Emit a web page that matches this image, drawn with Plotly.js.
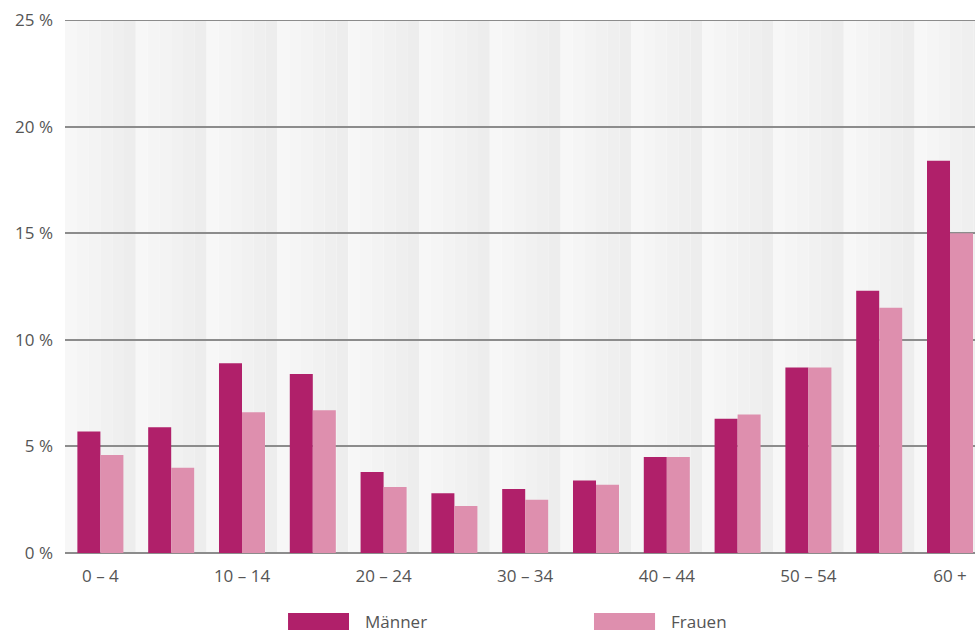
<!DOCTYPE html>
<html>
<head>
<meta charset="utf-8">
<script src="https://cdn.plot.ly/plotly-3.0.1.min.js"></script>
<style>html,body{margin:0;padding:0;background:#fff}#chart{width:975px;height:632px}</style>
</head>
<body>
<div id="chart"></div>
<script>
const categories = ["0 – 4","5 – 9","10 – 14","15 – 19","20 – 24","25 – 29","30 – 34","35 – 39","40 – 44","45 – 49","50 – 54","55 – 59","60 +"];
const maenner = [5.7, 5.9, 8.9, 8.4, 3.8, 2.8, 3.0, 3.4, 4.5, 6.3, 8.7, 12.3, 18.4];
const frauen  = [4.6, 4.0, 6.6, 6.7, 3.1, 2.2, 2.5, 3.2, 4.5, 6.5, 8.7, 11.5, 15.0];
const shownTicks = ["0 – 4","10 – 14","20 – 24","30 – 34","40 – 44","50 – 54","60 +"];
const yTickVals = [0, 5, 10, 15, 20, 25];
const yTickText = ["0 %","5 %","10 %","15 %","20 %","25 %"];
const seriesNames = ["Männer", "Frauen"];
const colors = ["#B0206A", "#DE8FAE"];

const FONT = "Open Sans, sans-serif";
const FS = 17;
const idx = categories.map((c, i) => i);

const traces = [
  {type: "bar", name: seriesNames[0], x: idx, y: maenner, marker: {color: colors[0]}, hoverinfo: "y"},
  {type: "bar", name: seriesNames[1], x: idx, y: frauen, marker: {color: colors[1]}, hoverinfo: "y"}
];

// background stripe gradient per category
const shapes = [];
const steps = ["#f7f7f7", "#f5f5f5", "#f3f3f3", "#f1f1f1", "#efefef", "#ededed"];
idx.forEach(i => {
  steps.forEach((c, k) => {
    shapes.push({type: "rect", xref: "x", yref: "paper", layer: "below",
      x0: i - 0.5 + k / steps.length, x1: i - 0.5 + (k + 1) / steps.length,
      y0: 0, y1: 1, fillcolor: c, line: {width: 0}});
  });
});
// top gridline at the range edge
shapes.push({type: "line", xref: "paper", yref: "y", x0: 0, x1: 1,
  y0: yTickVals[yTickVals.length - 1], y1: yTickVals[yTickVals.length - 1],
  layer: "between", line: {color: "#8c8c8c", width: 2}});

// manual legend
const legendItems = [
  {x0: 0.2451, x1: 0.3121, tx: 0.3275},
  {x0: 0.5813, x1: 0.6484, tx: 0.6637}
];
const annotations = [];
legendItems.forEach((it, k) => {
  shapes.push({type: "rect", xref: "paper", yref: "paper", x0: it.x0, x1: it.x1, y0: -0.1445, y1: -0.1126,
    fillcolor: colors[k], line: {width: 0}});
  annotations.push({xref: "paper", yref: "paper", x: it.tx, y: -0.1285, xanchor: "left", yanchor: "middle",
    text: seriesNames[k], showarrow: false, font: {family: FONT, size: FS, color: "#555"}});
});

const layout = {
  width: 975, height: 632,
  margin: {l: 65, r: 0, t: 20, b: 79},
  paper_bgcolor: "#ffffff", plot_bgcolor: "#ffffff",
  showlegend: false,
  barmode: "group", bargap: 0.35, bargroupgap: 0,
  font: {family: FONT, size: FS, color: "#555"},
  xaxis: {
    range: [-0.5, 12.353], tickmode: "array",
    tickvals: shownTicks.map(t => categories.indexOf(t)), ticktext: shownTicks,
    showgrid: false, zeroline: false, showline: false, ticks: "",
    ticklabelstandoff: 11, tickfont: {family: FONT, size: FS, color: "#555"}, fixedrange: true
  },
  yaxis: {
    range: [0, 25], tickmode: "array", tickvals: yTickVals, ticktext: yTickText,
    showgrid: true, gridcolor: "#8c8c8c", gridwidth: 2,
    zeroline: true, zerolinecolor: "#8c8c8c", zerolinewidth: 2,
    showline: false, ticks: "", ticklabelstandoff: 11,
    tickfont: {family: FONT, size: FS, color: "#555"}, fixedrange: true
  },
  shapes: shapes,
  annotations: annotations
};

Plotly.newPlot("chart", traces, layout, {displayModeBar: false, staticPlot: true});
</script>
</body>
</html>
